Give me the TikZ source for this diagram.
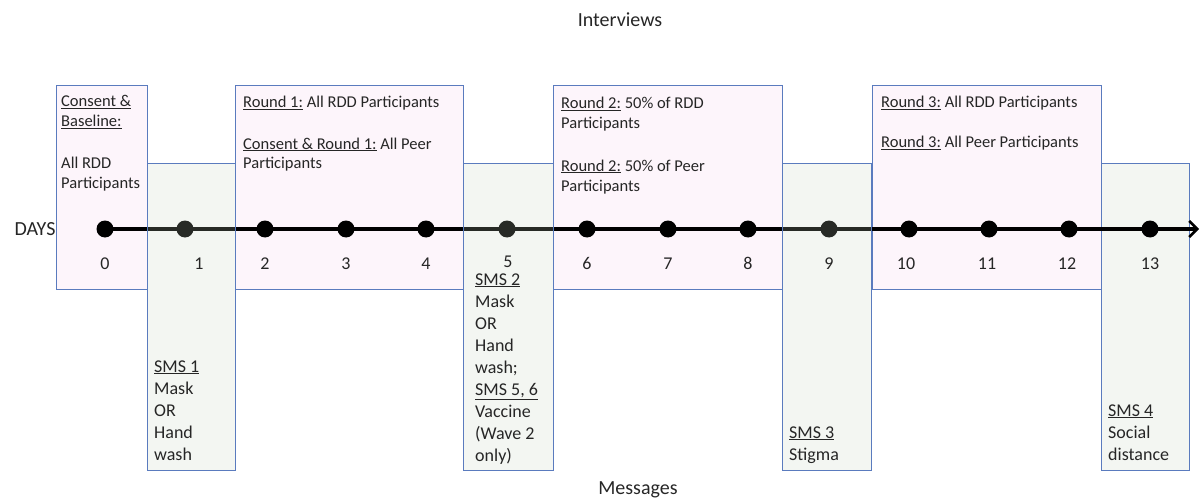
\documentclass[tikz,border=0pt]{standalone}
\usepackage{fontspec}
\setmainfont{Carlito}
\usetikzlibrary{arrows.meta}
\definecolor{pinkfill}{HTML}{FDF5FB}
\definecolor{greenfill}{RGB}{195,210,190}
\definecolor{greenop}{HTML}{F3F6F2}
\definecolor{boxline}{HTML}{5A7BBE}
\definecolor{txt}{HTML}{262626}
\newcommand{\ul}[1]{\underline{#1}}
\tikzset{
  pinkbox/.style={draw=boxline, line width=1pt, fill=pinkfill, anchor=north west, inner sep=0pt},
  greenbox/.style={draw=boxline, line width=1pt, fill=greenfill, fill opacity=0.2, anchor=north west, inner sep=0pt},
  greenboxop/.style={draw=boxline, line width=1pt, fill=greenop, anchor=north west, inner sep=0pt},
  daydot/.style={circle, fill=black, minimum size=17pt, inner sep=0pt},
  daynum/.style={anchor=base, inner sep=0pt, text=txt, font=\fontsize{18}{21}\selectfont},
  ptext/.style={anchor=base west, inner sep=0pt, align=left, text=txt, font=\fontsize{16.5}{20}\selectfont},
  gtext/.style={anchor=base west, inner sep=0pt, align=left, text=txt, font=\fontsize{18}{22}\selectfont},
  title/.style={inner sep=0pt, text=txt, font=\fontsize{20}{24}\selectfont},
  timeline/.style={line width=4.5pt, -{Straight Barb[length=8pt,width=16pt,line width=2.5pt]}}
}
\begin{document}
\begin{tikzpicture}[x=1pt,y=-1pt]
\useasboundingbox (0,0) rectangle (1200,500);
% interview boxes
\node[pinkbox, minimum width=91pt, minimum height=204pt] (b0) at (56,85) {};
\node[pinkbox, minimum width=228pt, minimum height=204pt] (b1) at (235,85) {};
\node[pinkbox, minimum width=229pt, minimum height=204pt] (b2) at (553,85) {};
\node[pinkbox, minimum width=229pt, minimum height=204pt] (b3) at (872,85) {};
\node[greenboxop, minimum width=88pt, minimum height=307pt] (g4) at (1101,163) {};
% day dots
\foreach \i/\x in {0/105,1/185,2/265,3/346,4/426,5/507,6/587,7/668,8/748,9/829,10/909,11/989,12/1069,13/1150}{
  \node[daydot] (d\i) at (\x,229) {};
}
\coordinate (tip) at (1199,229);
\draw[timeline] (d0.center) -- (tip);
% message boxes (translucent)
\node[greenbox, minimum width=88pt, minimum height=307pt] (g1) at (147,163) {};
\node[greenbox, minimum width=90pt, minimum height=307pt] (g2) at (463,163) {};
\node[greenbox, minimum width=89pt, minimum height=307pt] (g3) at (782,163) {};
% day numbers
\foreach \i/\x/\y in {0/105/269,1/199/269,2/265/269,3/346/269,4/426/269,5/508/267,6/587/269,7/668/269,8/748/269,9/829/269,10/906/269,11/987/269,12/1067/269,13/1150/269}{
  \node[daynum] (n\i) at (\x,\y) {\i};
}
% titles
\node[title] (interviews) at (620,20) {Interviews};
\node[title] (messages) at (638,490) {Messages};
\node[title] (days) at (35,229) {DAYS};
% interview texts (positioned at the baseline of their last line)
\node[ptext] (t0a) at (61,127) {\ul{Consent \&}\\\ul{Baseline:}};
\node[ptext] (t0b) at (61,189) {All RDD\\Participants};
\node[ptext] (t1a) at (243,108) {\ul{Round 1:} All RDD Participants};
\node[ptext] (t1b) at (243,169) {\ul{Consent \& Round 1:} All Peer\\Participants};
\node[ptext] (t2a) at (561,129) {\ul{Round 2:} 50\% of RDD\\Participants};
\node[ptext] (t2b) at (561,191) {\ul{Round 2:} 50\% of Peer\\Participants};
\node[ptext] (t3a) at (881,108) {\ul{Round 3:} All RDD Participants};
\node[ptext] (t3b) at (881,148) {\ul{Round 3:} All Peer Participants};
% message texts
\node[gtext] (m1) at (154,460) {\ul{SMS 1}\\Mask\\OR\\Hand\\wash};
\node[gtext] (m2) at (475,461) {\ul{SMS 2}\\Mask\\OR\\Hand\\wash;\\\ul{SMS 5, 6}\\Vaccine\\(Wave 2\\only)};
\node[gtext] (m3) at (789,460) {\ul{SMS 3}\\Stigma};
\node[gtext] (m4) at (1108,460) {\ul{SMS 4}\\Social\\distance};
\end{tikzpicture}
\end{document}
